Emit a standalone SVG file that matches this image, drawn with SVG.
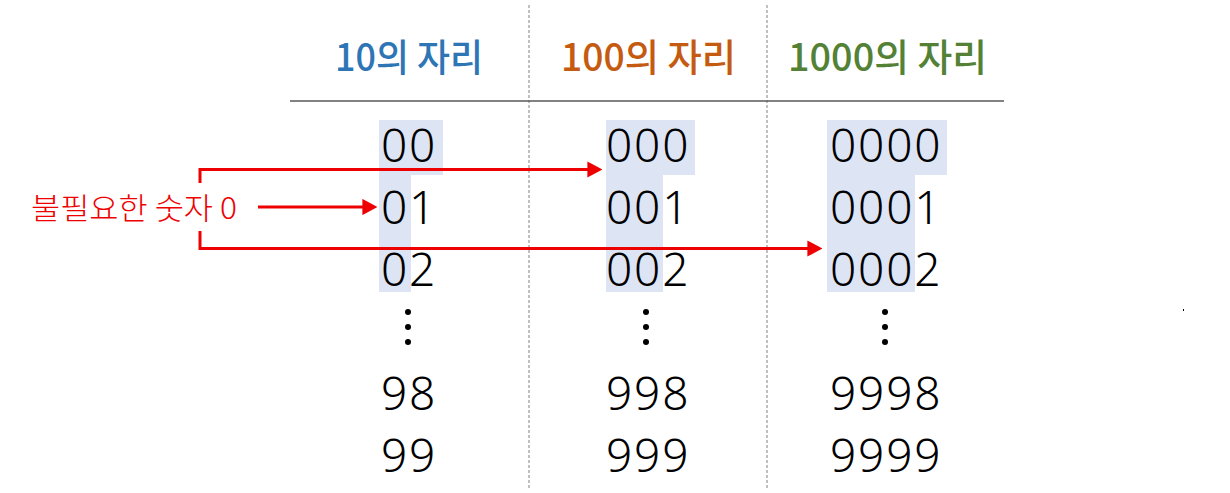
<svg xmlns="http://www.w3.org/2000/svg" width="1230" height="493" viewBox="0 0 1230 493">
<style>
.hdr{font-family:"Noto Sans CJK KR","Noto Sans",sans-serif;font-size:38px;font-weight:500;text-anchor:start}
.num{font-family:"Noto Sans","DejaVu Sans",sans-serif;font-size:46px;font-weight:300;fill:#000;letter-spacing:1.8px}
.hl{fill:#DDE4F3}
.dash{stroke:#808080;stroke-width:1;stroke-dasharray:3 2;fill:none}
.red{stroke:#EE0000;stroke-width:3;fill:none}
.dot{fill:#000}
</style>
<defs>
<marker id="ah" markerWidth="5" markerHeight="5.4" refX="0.2" refY="2.7" orient="auto" markerUnits="strokeWidth">
<path d="M0,0 L5,2.7 L0,5.4 Z" fill="#EE0000"/>
</marker>
</defs>
<rect width="1230" height="493" fill="#fff"/>
<g id="grid">
<line class="dash" x1="529" y1="5" x2="529" y2="488"/>
<line class="dash" x1="767" y1="5" x2="767" y2="488"/>
<line x1="290" y1="101" x2="1004" y2="101" stroke="#595959" stroke-width="1.5"/>
</g>
<g id="headers">
<text class="hdr" x="335" y="71" fill="#2E75B6" textLength="148" lengthAdjust="spacingAndGlyphs">10의 자리</text>
<text class="hdr" x="561" y="71" fill="#C55A11" textLength="175" lengthAdjust="spacingAndGlyphs">100의 자리</text>
<text class="hdr" x="788" y="71" fill="#538135" textLength="199" lengthAdjust="spacingAndGlyphs">1000의 자리</text>
</g>
<g id="col10">
<rect class="hl" x="379" y="120" width="64" height="55"/>
<rect class="hl" x="379" y="174" width="32" height="118"/>
<text class="num" x="381" y="162">00</text>
<text class="num" x="381" y="224">01</text>
<text class="num" x="381" y="286">02</text>
<circle class="dot" cx="408" cy="312" r="3"/>
<circle class="dot" cx="408" cy="327" r="3"/>
<circle class="dot" cx="408" cy="342" r="3"/>
<text class="num" x="381" y="410">98</text>
<text class="num" x="381" y="472">99</text>
</g>
<g id="col100">
<rect class="hl" x="606" y="120" width="89" height="55"/>
<rect class="hl" x="606" y="174" width="57" height="118"/>
<text class="num" x="606" y="162">000</text>
<text class="num" x="606" y="224">001</text>
<text class="num" x="606" y="286">002</text>
<circle class="dot" cx="646" cy="312" r="3"/>
<circle class="dot" cx="646" cy="327" r="3"/>
<circle class="dot" cx="646" cy="342" r="3"/>
<text class="num" x="606" y="410">998</text>
<text class="num" x="606" y="472">999</text>
</g>
<g id="col1000">
<rect class="hl" x="827" y="120" width="120" height="55"/>
<rect class="hl" x="827" y="174" width="88" height="118"/>
<text class="num" x="830" y="162">0000</text>
<text class="num" x="830" y="224">0001</text>
<text class="num" x="830" y="286">0002</text>
<circle class="dot" cx="885" cy="312" r="3"/>
<circle class="dot" cx="885" cy="327" r="3"/>
<circle class="dot" cx="885" cy="342" r="3"/>
<text class="num" x="830" y="410">9998</text>
<text class="num" x="830" y="472">9999</text>
</g>
<g id="connectors">
<path class="red" d="M200,183 V169.5 H588" marker-end="url(#ah)"/>
<path class="red" d="M200,231 V248.5 H808" marker-end="url(#ah)"/>
<path class="red" d="M258,207 H363" marker-end="url(#ah)"/>
</g>
<g id="label">
<text x="31" y="219" fill="#EE0000" font-family="Noto Sans CJK KR, Noto Sans, sans-serif" font-size="30" font-weight="300" textLength="206" lengthAdjust="spacingAndGlyphs">불필요한 숫자 0</text>
</g>
<rect x="1183" y="309" width="1" height="2" fill="#000"/>
</svg>
